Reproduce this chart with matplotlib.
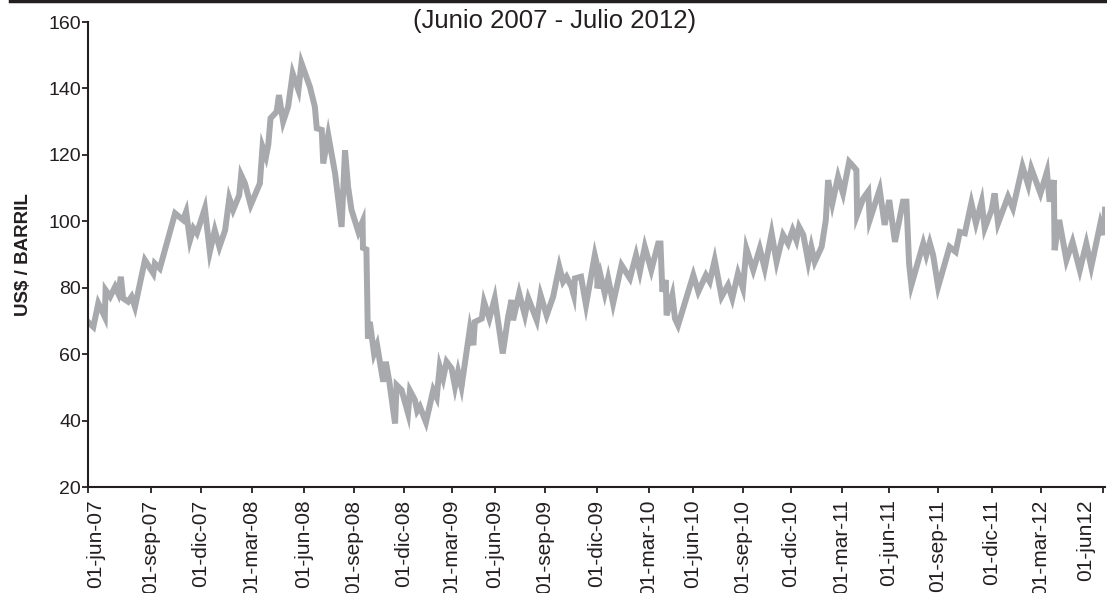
import numpy as np
import matplotlib
matplotlib.use('Agg')
import matplotlib.pyplot as plt
from matplotlib.lines import Line2D
from matplotlib.transforms import ScaledTranslation

plt.rcParams['font.family'] = ['Liberation Sans', 'DejaVu Sans']

# Precio del petróleo, semanas desde 01-jun-07
semanas = [0.0, 1.4, 2.7, 4.4, 4.6, 5.8, 7.1, 7.9, 8.6, 9.2, 10.5, 11.4, 12.3,
           14.9, 17.1, 17.5, 18.8, 22.8, 24.9, 25.7, 26.7, 27.6, 28.5, 30.6,
           31.9, 33.2, 34.4, 35.9, 37.0, 38.0, 39.6, 40.1, 41.1, 42.6, 45.0,
           45.7, 46.6, 47.2, 47.8, 49.4, 50.0, 51.1, 52.4, 53.6, 55.1, 55.9,
           58.1, 59.4, 59.9, 61.2, 61.6, 62.9, 64.7, 66.4, 67.3, 68.1, 69.0,
           70.8, 71.9, 72.0, 72.9, 73.3, 73.8, 74.9, 75.7, 77.3, 78.0, 78.9,
           80.4, 80.8, 82.1, 83.8, 84.3, 85.6, 86.2, 86.9, 88.5, 90.4, 91.3,
           92.1, 93.0, 93.9, 95.2, 96.1, 96.9, 97.8, 100.0, 100.9, 101.3,
           103.1, 103.7, 105.1, 106.5, 108.6, 110.0, 110.9, 111.3, 112.9,
           114.4, 115.3, 117.5, 118.5, 120.1, 121.8, 123.4, 124.4, 125.3,
           126.6, 127.2, 127.5, 129.1, 130.4, 132.7, 133.3, 133.4, 134.2,
           135.3, 136.2, 137.5, 139.7, 141.9, 143.5, 144.5, 145.8, 147.5,
           149.3, 149.9, 150.4, 151.3, 151.5, 153.0, 153.7, 154.5, 158.5,
           159.8, 161.8, 162.8, 164.1, 165.9, 167.6, 168.7, 170.2, 171.5,
           172.4, 174.2, 175.9, 177.2, 179.0, 180.3, 182.0, 183.3, 184.5,
           185.5, 186.2, 187.3, 188.6, 189.4, 190.3, 192.1, 193.2, 193.8,
           194.9, 196.4, 197.7, 199.3, 200.5, 201.2, 201.4, 203.0, 204.3,
           204.7, 207.3, 208.6, 209.8, 211.3, 213.4, 214.3, 215.0, 215.6,
           218.7, 219.5, 220.4, 221.3, 222.6, 225.6, 227.2, 228.3, 229.6,
           231.3, 232.5, 234.0, 234.8, 236.6, 237.4, 238.3, 240.9, 242.2,
           244.7, 246.2, 247.0, 249.4, 251.1, 251.8, 252.9, 253.1, 254.3,
           256.2, 257.8, 259.7, 261.4, 262.7, 265.1, 266.0, 266.3]
precio = [69.7, 68.2, 75.3, 71.2, 79.3, 77.3, 80.3, 78.3, 83.3, 76.8, 75.8, 77.3, 74.2,
          88.3, 84.3, 87.3, 85.8, 102.4, 100.4, 102.9, 94.3, 97.9, 96.4, 103.9,
          90.8, 97.3, 92.3, 97.3, 106.9, 103.4, 107.9, 113.9, 111.4, 104.9, 111.4,
          122.4, 119.4, 123.0, 131.0, 133.0, 138.0, 130.0, 134.5, 144.5, 139.5, 147.6,
          140.5, 134.5, 128.0, 127.5, 117.4, 126.0, 114.4, 98.3, 121.4, 110.4, 103.4,
          96.8, 99.9, 92.0, 91.5, 64.7, 69.7, 60.2, 62.7, 51.7, 57.7, 51.7,
          39.1, 50.7, 49.2, 42.2, 49.0, 46.2, 42.9, 44.2, 39.5, 49.2, 47.0,
          56.2, 52.7, 57.7, 55.7, 50.2, 54.7, 50.2, 67.7, 62.7, 69.7,
          70.7, 75.7, 70.7, 76.8, 60.2, 71.2, 76.3, 70.2, 78.3,
          71.7, 76.8, 70.2, 77.8, 71.7, 77.3, 86.3, 81.8, 83.3,
          80.3, 77.8, 82.8, 83.3, 74.8, 89.8, 86.8, 79.8, 83.8,
          78.3, 82.8, 75.3, 86.8, 82.8, 89.8, 84.8, 92.3, 85.3,
          93.3, 93.3, 78.8, 82.3, 71.7, 77.8, 70.7, 68.7, 83.8,
          78.8, 83.8, 81.8, 88.3, 77.3, 80.8, 76.8, 84.3, 79.8,
          91.8, 85.3, 91.8, 85.8, 96.4, 87.8, 95.9, 93.3, 97.3,
          94.3, 98.3, 95.9, 87.8, 92.3, 87.8, 92.3, 100.4, 112.4,
          105.4, 113.4, 108.4, 117.9, 116.4, 115.4, 101.9, 106.9, 109.0,
          100.4, 109.6, 98.9, 106.4, 93.8, 105.9, 105.9, 87.3, 80.8,
          93.3, 89.8, 93.5, 89.8, 80.3, 92.3, 90.8, 96.8, 96.4,
          105.5, 99.4, 105.9, 97.9, 103.4, 108.4, 99.4, 107.4, 103.9,
          116.5, 110.9, 115.9, 108.4, 114.9, 105.9, 112.4, 91.3, 100.4,
          88.3, 93.8, 85.3, 93.3, 86.3, 99.4, 95.9, 103.5]

etiquetas = ['01-jun-07', '01-sep-07', '01-dic-07', '01-mar-08', '01-jun-08',
             '01-sep-08', '01-dic-08', '01-mar-09', '01-jun-09', '01-sep-09',
             '01-dic-09', '01-mar-10', '01-jun-10', '01-sep-10', '01-dic-10',
             '01-mar-11', '01-jun-11', '01-sep-11', '01-dic-11', '01-mar-12',
             '01-jun12']
pos_etiquetas = [0, 16.4, 29.5, 42.9, 56.5, 69.6, 82.7, 95.3, 106.5, 119.6,
                 133.2, 146.9, 158.4, 171.5, 184.0, 197.4, 209.7, 222.5,
                 236.6, 249.5, 265.7]

W, H = 1107, 593
fig = plt.figure(figsize=(W / 100, H / 100), dpi=100)
ax = fig.add_axes([88 / W, 1 - 487 / H, 1017 / W, 465 / H])

ax.plot(semanas, precio, color='#A7A9AC', linewidth=4.3,
        solid_joinstyle='miter')

ax.set_xlim(0, 266.3)
ax.set_ylim(20, 160)
ax.set_yticks(np.arange(20, 161, 20))
ax.set_xticks(pos_etiquetas)
ax.set_xticklabels(etiquetas, rotation=90, va='top', ha='center')

for s in ['top', 'right']:
    ax.spines[s].set_visible(False)
for s in ['left', 'bottom']:
    ax.spines[s].set_linewidth(1.5)
    ax.spines[s].set_color('#231F20')
ax.tick_params(axis='both', direction='out', length=4, width=1.3,
               color='#231F20', labelcolor='#231F20')
ax.tick_params(axis='y', pad=1, labelsize=14)
ax.tick_params(axis='x', pad=5, labelsize=15)

# primera y ultima etiqueta desplazadas hacia dentro
lbls = ax.get_xticklabels()
lbls[0].set_transform(lbls[0].get_transform()
                      + ScaledTranslation(8 / 100, 0, fig.dpi_scale_trans))
lbls[-1].set_transform(lbls[-1].get_transform()
                       + ScaledTranslation(-17 / 100, 0, fig.dpi_scale_trans))

ax.set_ylabel('US$ / BARRIL', fontsize=13.5, fontweight='bold',
              color='#231F20')
ax.yaxis.set_label_coords(-56 / 1017, 0.5)

fig.text(555 / W, 1 - 21 / H, '(Junio 2007 - Julio 2012)', ha='center',
         va='center', fontsize=18.5, color='#231F20')

# linea superior
fig.add_artist(Line2D([10 / W, 1], [1 - 1 / H, 1 - 1 / H],
                      transform=fig.transFigure, color='#231F20',
                      linewidth=2.5))

plt.savefig('out.png', dpi=100)
